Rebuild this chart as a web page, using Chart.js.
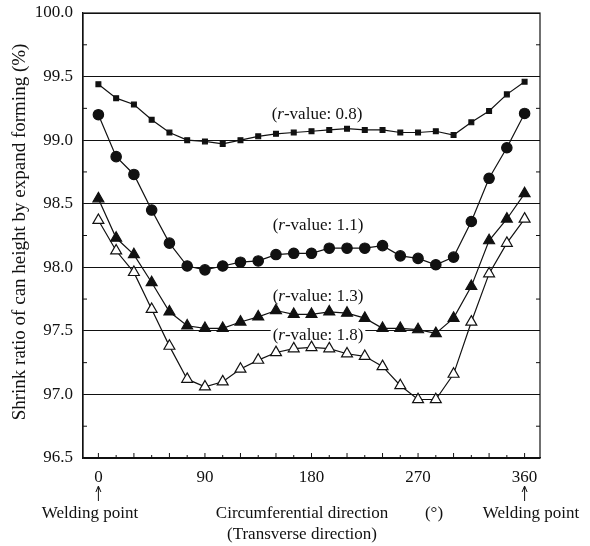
<!DOCTYPE html>
<html>
<head>
<meta charset="utf-8">
<script src="https://cdn.jsdelivr.net/npm/chart.js@4/dist/chart.umd.min.js"></script>
<style>
html,body{margin:0;padding:0;background:#fff;}
#wrap{width:590px;height:546px;position:relative;}
</style>
</head>
<body>
<div id="wrap"><canvas id="c" width="590" height="546"></canvas></div>
<script>
const angles = [0,15,30,45,60,75,90,105,120,135,150,165,180,195,210,225,240,255,270,285,300,315,330,345,360];
const r08 = [99.44,99.33,99.28,99.16,99.06,99.00,98.99,98.97,99.00,99.03,99.05,99.06,99.07,99.08,99.09,99.08,99.08,99.06,99.06,99.07,99.04,99.14,99.23,99.36,99.46];
const r11 = [99.20,98.87,98.73,98.45,98.19,98.01,97.98,98.01,98.04,98.05,98.10,98.11,98.11,98.15,98.15,98.15,98.17,98.09,98.07,98.02,98.08,98.36,98.70,98.94,99.21];
const r13 = [98.54,98.23,98.10,97.88,97.65,97.54,97.52,97.52,97.57,97.61,97.66,97.63,97.63,97.65,97.64,97.60,97.52,97.52,97.51,97.48,97.60,97.85,98.21,98.38,98.58];
const r18 = [98.37,98.13,97.96,97.67,97.38,97.12,97.06,97.10,97.20,97.27,97.33,97.36,97.37,97.36,97.32,97.30,97.22,97.07,96.96,96.96,97.16,97.57,97.95,98.19,98.38];
const xTickLabels = [0,90,180,270,360];
const yTickLabels = [96.5,97.0,97.5,98.0,98.5,99.0,99.5,100.0];
const seriesNames = ['0.8','1.1','1.3','1.8'];
const yTitle = 'Shrink ratio of can height by expand forming (%)';
const xTitle1 = 'Circumferential direction';
const xTitle2 = '(Transverse direction)';
const xUnit = '(\u00b0)';
const weldLabel = 'Welding point';

const FONT = '"Liberation Serif", "Times New Roman", serif';
const INK = '#111';

function pts(arr){ return angles.map((a,i)=>({x:a,y:arr[i]})); }

const labelPos = [
  {name:'0.8', x:317, y:115, bg:false},
  {name:'1.1', x:318, y:226, bg:false},
  {name:'1.3', x:318, y:297, bg:false},
  {name:'1.8', x:318, y:336, bg:true}
];

const decor = {
  id:'decor',
  beforeDatasetsDraw(chart){
    const ctx = chart.ctx;
    ctx.save();
    ctx.textBaseline = 'middle';
    const F = '17px ' + FONT, FI = 'italic 17px ' + FONT;
    labelPos.forEach(l=>{
      const a = '(', r = 'r', rest = '-value: ' + l.name + ')';
      ctx.font = F;
      const wa = ctx.measureText(a).width;
      ctx.font = FI;
      const wr = ctx.measureText(r).width;
      ctx.font = F;
      const wrest = ctx.measureText(rest).width;
      const total = wa + wr + wrest;
      let x0 = l.x - total/2;
      if (l.bg){
        ctx.fillStyle = '#fff';
        ctx.fillRect(x0-2, l.y-9, total+4, 18);
      }
      ctx.fillStyle = INK;
      ctx.textAlign = 'left';
      ctx.fillText(a, x0, l.y);
      ctx.font = FI;
      ctx.fillText(r, x0+wa, l.y);
      ctx.font = F;
      ctx.fillText(rest, x0+wa+wr, l.y);
    });
    ctx.restore();
  },
  afterDraw(chart){
    const ctx = chart.ctx, a = chart.chartArea;
    const xs = chart.scales.x, ys = chart.scales.y;
    ctx.save();
    ctx.strokeStyle = INK;
    ctx.lineWidth = 1.2;
    ctx.strokeRect(a.left, a.top, a.right-a.left, a.bottom-a.top);
    ctx.lineWidth = 1;
    for (let i=0;i<yTickLabels.length-1;i++){
      const v = (yTickLabels[i]+yTickLabels[i+1])/2;
      const py = ys.getPixelForValue(v);
      ctx.beginPath();
      ctx.moveTo(a.left, py); ctx.lineTo(a.left+4, py);
      ctx.moveTo(a.right, py); ctx.lineTo(a.right-4, py);
      ctx.stroke();
    }
    angles.forEach((ang,i)=>{
      const px = xs.getPixelForValue(ang);
      const len = (i%2===0) ? 5 : 3;
      ctx.beginPath();
      ctx.moveTo(px, a.bottom); ctx.lineTo(px, a.bottom-len);
      ctx.stroke();
    });
    ctx.fillStyle = INK;
    ctx.font = '19px ' + FONT;
    ctx.textAlign = 'center';
    ctx.textBaseline = 'middle';
    ctx.save();
    ctx.translate(20, 232);
    ctx.rotate(-Math.PI/2);
    ctx.fillText(yTitle, 0, 0);
    ctx.restore();
    [xTickLabels[0], xTickLabels[xTickLabels.length-1]].forEach(v=>{
      const px = xs.getPixelForValue(v);
      ctx.beginPath();
      ctx.moveTo(px, 501); ctx.lineTo(px, 487);
      ctx.stroke();
      ctx.beginPath();
      ctx.moveTo(px-2.5, 492); ctx.lineTo(px, 486); ctx.lineTo(px+2.5, 492);
      ctx.stroke();
    });
    ctx.font = '17px ' + FONT;
    ctx.fillText(weldLabel, 90, 514);
    ctx.fillText(weldLabel, 531, 514);
    ctx.fillText(xTitle1, 302, 514);
    ctx.fillText(xUnit, 434, 514);
    ctx.fillText(xTitle2, 302, 535);
    ctx.restore();
  }
};

const mk = (arr, style, radius, fill) => ({
  data: pts(arr),
  borderColor: INK,
  borderWidth: 1.2,
  pointStyle: style,
  pointRadius: radius,
  pointBackgroundColor: fill,
  pointBorderColor: INK,
  pointBorderWidth: 1.2,
  tension: 0,
  fill: false
});

new Chart(document.getElementById('c'), {
  type: 'line',
  data: {
    datasets: [
      Object.assign(mk(r08,'rect',3.4,INK), {label: seriesNames[0]}),
      Object.assign(mk(r11,'circle',5.2,INK), {label: seriesNames[1]}),
      Object.assign(mk(r13,'triangle',6.3,INK), {label: seriesNames[2]}),
      Object.assign(mk(r18,'triangle',6.3,'#fff'), {label: seriesNames[3]})
    ]
  },
  options: {
    responsive: false,
    animation: false,
    layout: {padding: {left: 0, top: 13, right: 50, bottom: 0}},
    plugins: {legend: {display: false}, tooltip: {enabled: false}},
    scales: {
      x: {
        type: 'linear', min: -13, max: 373,
        afterBuildTicks: s => { s.ticks = xTickLabels.map(v=>({value:v})); },
        afterFit: s => { s.height = 88; s.paddingLeft = 0; s.paddingRight = 0; },
        grid: {display: false, drawTicks: false},
        border: {display: true, color: INK, width: 1.2},
        ticks: {color: INK, padding: 9, font: {family: FONT, size: 17}, maxRotation: 0,
                callback: v => String(v)}
      },
      y: {
        type: 'linear', min: 96.5, max: 100,
        afterBuildTicks: s => { s.ticks = yTickLabels.map(v=>({value:v})); },
        afterFit: s => { s.width = 83; s.paddingTop = 0; s.paddingBottom = 0; },
        grid: {color: INK, lineWidth: 1, drawTicks: false},
        border: {display: true, color: INK, width: 1.2},
        ticks: {color: INK, padding: 10, font: {family: FONT, size: 17},
                callback: v => Number(v).toFixed(1)}
      }
    }
  },
  plugins: [decor]
});
</script>
</body>
</html>
